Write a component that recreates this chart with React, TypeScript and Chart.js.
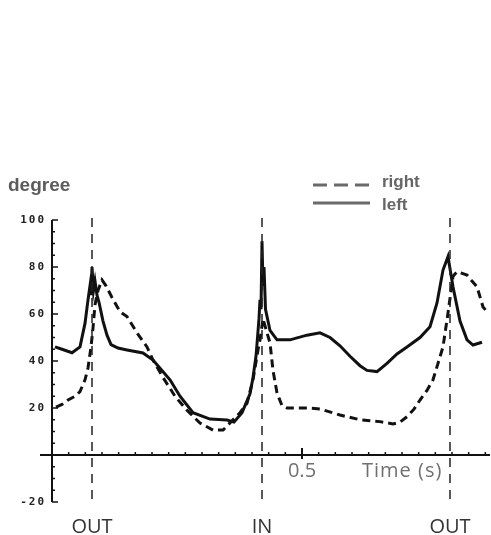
import { useEffect, useRef } from "react";
import { Chart, registerables } from "chart.js";
Chart.register(...registerables);

// "left" (solid) series: time in s, angle in degrees
const leftTime = [0.006, 0.02, 0.04, 0.056, 0.066, 0.072, 0.076, 0.078, 0.08, 0.083, 0.086, 0.09, 0.094, 0.102, 0.11, 0.118, 0.132, 0.15, 0.182, 0.202, 0.22, 0.236, 0.256, 0.282, 0.316, 0.35, 0.364, 0.38, 0.396, 0.402, 0.408, 0.411, 0.414, 0.416, 0.418, 0.42, 0.422, 0.424, 0.427, 0.436, 0.45, 0.476, 0.51, 0.536, 0.556, 0.576, 0.596, 0.616, 0.63, 0.65, 0.67, 0.69, 0.71, 0.736, 0.756, 0.77, 0.782, 0.792, 0.802, 0.816, 0.83, 0.842, 0.86];
const leftDeg = [46, 45, 43.5, 46, 56, 66, 72, 68, 80, 70, 74, 68, 65, 57, 51, 47, 45.5, 44.7, 43.4, 40.4, 36, 32, 25, 18, 15.3, 14.9, 14, 18, 26, 33, 42, 50, 58, 66, 62, 91, 72, 80, 62, 53, 49, 49, 51, 52, 50, 46.5, 42, 38, 36, 35.5, 39, 43, 46, 50, 54.6, 64.7, 78.7, 84.4, 71.6, 57, 49, 46.8, 48];

// "right" (dashed) series
const rightTime = [0.008, 0.02, 0.032, 0.046, 0.056, 0.066, 0.072, 0.078, 0.082, 0.086, 0.092, 0.1, 0.108, 0.12, 0.136, 0.15, 0.17, 0.19, 0.202, 0.222, 0.246, 0.27, 0.296, 0.322, 0.342, 0.362, 0.376, 0.39, 0.402, 0.412, 0.416, 0.422, 0.43, 0.436, 0.442, 0.45, 0.46, 0.47, 0.51, 0.536, 0.576, 0.616, 0.656, 0.682, 0.696, 0.71, 0.724, 0.736, 0.75, 0.762, 0.772, 0.782, 0.792, 0.802, 0.81, 0.83, 0.84, 0.85, 0.862, 0.87];
const rightDeg = [20.4, 21.5, 23.4, 25, 27, 32, 37, 46, 54, 64, 70, 74.5, 72, 67, 61, 58.9, 52, 46, 40.4, 33, 25, 19, 13.6, 10.6, 10.6, 15, 18, 22, 32, 44.7, 49, 58, 52, 47.7, 36, 26.4, 21, 20, 20, 19.6, 17, 15, 14.2, 13.2, 14, 16.3, 19.5, 23.4, 27.5, 32, 39, 46, 60.4, 76, 78, 76.6, 74, 71.6, 63, 61];

const seriesNames = ["right", "left"];
const eventTimes = [0.08, 0.42, 0.796];
const eventLabels = ["OUT", "IN", "OUT"];
const yTickValues = [-20, 0, 20, 40, 60, 80, 100];
const yTickLabels = ["-20", "", "20", "40", "60", "80", "100"];
const xTickLabelValues = [0.5];
const xTickLabels = ["0.5"];
const yAxisTitle = "degree";
const xAxisTitle = "Time (s)";
const frameStep = 1 / 30;
const yMinorStep = 5;

const decor = {
  id: "decor",
  afterDraw(chart: any) {
    const { ctx, chartArea: ca, scales } = chart;
    const x = scales.x;
    const y = scales.y;
    const ax = x.getPixelForValue(0);
    const ay = y.getPixelForValue(0);
    ctx.save();
    ctx.strokeStyle = "#111";
    ctx.fillStyle = "#111";
    // axes
    ctx.lineWidth = 2;
    ctx.beginPath();
    ctx.moveTo(ax, ca.top);
    ctx.lineTo(ax, ca.bottom);
    ctx.stroke();
    ctx.beginPath();
    ctx.moveTo(ca.left, ay);
    ctx.lineTo(ca.right, ay);
    ctx.stroke();
    // y ticks
    ctx.lineWidth = 1.5;
    for (let v = y.min; v <= y.max + 1e-9; v += yMinorStep) {
      const py = y.getPixelForValue(v);
      const major = Math.abs(v % 20) < 1e-9;
      ctx.beginPath();
      ctx.moveTo(ax, py);
      ctx.lineTo(ax + (major ? 6 : 3), py);
      ctx.stroke();
    }
    // y tick labels
    ctx.font = "bold 11px 'DejaVu Sans Mono'";
    (ctx as any).letterSpacing = "2px";
    ctx.textAlign = "right";
    ctx.textBaseline = "middle";
    ctx.fillStyle = "#222";
    yTickValues.forEach((v, i) => {
      ctx.fillText(yTickLabels[i], ax - 6, y.getPixelForValue(v));
    });
    (ctx as any).letterSpacing = "0px";
    // x ticks
    ctx.lineWidth = 1.5;
    for (let k = 1; k * frameStep <= x.max; k++) {
      const px = x.getPixelForValue(k * frameStep);
      ctx.beginPath();
      ctx.moveTo(px, ay - 3);
      ctx.lineTo(px, ay);
      ctx.stroke();
    }
    xTickLabelValues.forEach((v, i) => {
      const px = x.getPixelForValue(v);
      ctx.lineWidth = 2;
      ctx.beginPath();
      ctx.moveTo(px, ay - 7);
      ctx.lineTo(px, ay + 4);
      ctx.stroke();
      ctx.font = "20px 'Open Sans'";
      ctx.fillStyle = "#707070";
      ctx.textAlign = "center";
      ctx.textBaseline = "alphabetic";
      ctx.fillText(xTickLabels[i], px, ay + 22);
    });
    ctx.font = "20px 'Open Sans'";
    (ctx as any).letterSpacing = "1px";
    ctx.fillStyle = "#707070";
    ctx.textAlign = "left";
    ctx.textBaseline = "alphabetic";
    ctx.fillText(xAxisTitle, x.getPixelForValue(0.62), ay + 22);
    (ctx as any).letterSpacing = "0px";
    // event lines
    ctx.strokeStyle = "#222";
    ctx.lineWidth = 1.5;
    ctx.setLineDash([9, 7]);
    eventTimes.forEach((t, i) => {
      const px = x.getPixelForValue(t);
      ctx.beginPath();
      ctx.moveTo(px, ca.top - 2);
      ctx.lineTo(px, ca.bottom + 4);
      ctx.stroke();
      ctx.font = "20px 'Open Sans'";
      ctx.fillStyle = "#333";
      ctx.textAlign = "center";
      ctx.textBaseline = "alphabetic";
      ctx.fillText(eventLabels[i], px, ca.bottom + 31);
    });
    ctx.setLineDash([]);
    // y title
    ctx.font = "bold 19px 'Liberation Sans'";
    ctx.fillStyle = "#5c5c5c";
    ctx.textAlign = "left";
    ctx.textBaseline = "alphabetic";
    ctx.fillText(yAxisTitle, 8, 191);
    // legend
    const ds = chart.data.datasets;
    seriesNames.forEach((name, i) => {
      const d = ds.find((q: any) => q.label === name);
      const ly = 185 + i * 18;
      ctx.strokeStyle = "#6a6a6a";
      ctx.lineWidth = 3;
      ctx.setLineDash(d && d.borderDash ? [14, 7] : []);
      ctx.beginPath();
      ctx.moveTo(313, ly);
      ctx.lineTo(370, ly);
      ctx.stroke();
      ctx.setLineDash([]);
      ctx.font = "bold 17px 'Liberation Sans'";
      ctx.fillStyle = "#666";
      ctx.textAlign = "left";
      ctx.textBaseline = "alphabetic";
      ctx.fillText(name, 382, ly + 2 + i * 5);
    });
    ctx.restore();
  },
};

export default function App() {
  const ref = useRef<HTMLCanvasElement>(null);
  useEffect(() => {
    if (!ref.current) return;
    const chart = new Chart(ref.current, {
      type: "line",
      data: {
        datasets: [
          {
            label: seriesNames[0],
            data: rightTime.map((t, i) => ({ x: t, y: rightDeg[i] })),
            borderColor: "#111",
            borderWidth: 3,
            borderDash: [8, 5],
            pointRadius: 0,
            tension: 0,
            fill: false,
          },
          {
            label: seriesNames[1],
            data: leftTime.map((t, i) => ({ x: t, y: leftDeg[i] })),
            borderColor: "#111",
            borderWidth: 3,
            pointRadius: 0,
            tension: 0,
            fill: false,
          },
        ],
      },
      options: {
        animation: false,
        responsive: false,
        devicePixelRatio: 1,
        layout: { padding: { left: 40, right: 1, top: 220, bottom: 33 } },
        plugins: { legend: { display: false }, tooltip: { enabled: false } },
        scales: {
          x: { type: "linear", min: -0.024, max: 0.876, display: false },
          y: { type: "linear", min: -20, max: 100, display: false },
        },
      },
      plugins: [decor],
    });
    return () => chart.destroy();
  }, []);
  return (
    <div style={{ position: "fixed", left: 0, top: 0, width: 491, height: 535, background: "#fff" }}>
      <canvas ref={ref} width={491} height={535} />
    </div>
  );
}
